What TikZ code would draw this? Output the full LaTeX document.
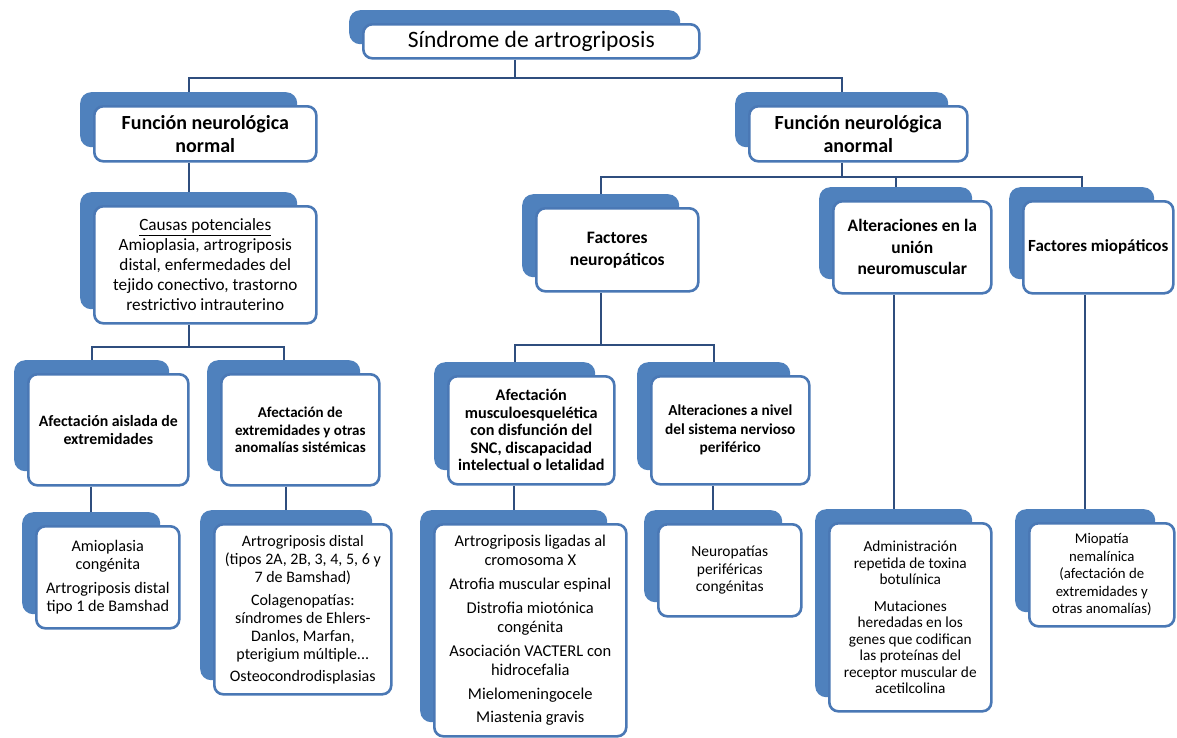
\documentclass[tikz,border=0pt]{standalone}
\usepackage{fontspec}
\setmainfont{Carlito}
\usetikzlibrary{backgrounds}
\definecolor{cardblue}{HTML}{4F81BD}
\definecolor{edgeblue}{HTML}{4A78B5}
\definecolor{linkblue}{HTML}{2F4E7E}
\tikzset{
 backcard/.style={fill=cardblue, draw=none, rounded corners=11pt, inner sep=0pt},
 frontcard/.style={fill=white, draw=edgeblue, line width=2.6pt, rounded corners=9pt, inner sep=2pt, align=center},
 fs/.style n args={2}{font=\fontsize{#1}{#2}\selectfont},
 fb/.style n args={2}{font=\fontsize{#1}{#2}\selectfont\bfseries},
 conn/.style={draw=linkblue, line width=2.2pt},
}
\newcommand\card[7]{%
 \node[backcard, anchor=north west, minimum width={#5-#3-5}, minimum height={#6-#4}] (#1b) at (#3-13,#4-13) {};
 \node[frontcard, #2, anchor=north west, minimum width={#5-#3}, minimum height={#6-#4}] (#1) at (#3,#4) {#7};}
\begin{document}
\begin{tikzpicture}[x=1pt,y=-1pt]
\useasboundingbox (0,0) rectangle (1177,737);
\card{top}{fs={23.5}{27}}{362}{23}{698}{57}{Síndrome de artrogriposis}
\card{fnn}{fb={20}{23}}{93}{105}{315}{160}{Función neurológica\\normal}
\card{fna}{fb={20}{23}}{748}{105}{966}{160}{Función neurológica\\anormal}
\card{causas}{fs={17.2}{20}}{93}{205}{315}{322}{\underline{Causas potenciales}\\Amioplasia, artrogriposis\\distal, enfermedades del\\tejido conectivo, trastorno\\restrictivo intrauterino}
\card{ais}{fb={15.8}{18}}{27}{373}{187}{484}{Afectación aislada de\\extremidades}
\card{ext}{fb={15}{17.5}}{220}{373}{378}{484}{Afectación de\\extremidades y otras\\anomalías sistémicas}
\card{amio}{fs={16.2}{17.5}}{35}{525}{178}{627}{Amioplasia\\congénita\\[7pt]Artrogriposis distal\\tipo 1 de Bamshad}
\card{artd}{fs={16}{18}}{213}{523}{390}{693}{Artrogriposis distal\\(tipos 2A, 2B, 3, 4, 5, 6 y\\7 de Bamshad)\\[5pt]Colagenopatías:\\síndromes de Ehlers-\\Danlos, Marfan,\\pterigium múltiple...\\[4pt]Osteocondrodisplasias}
\card{neu}{fb={17.5}{22}}{535}{207}{697}{290}{Factores\\neuropáticos}
\card{union}{fb={17.5}{21.5}}{832}{200}{990}{292}{Alteraciones en la\\unión\\neuromuscular}
\card{mio}{fb={17}{21}}{1022}{200}{1172}{292}{Factores miopáticos}
\card{musc}{fb={16.2}{17.5}}{447}{375}{613}{483}{Afectación\\musculoesquelética\\con disfunción del\\SNC, discapacidad\\intelectual o letalidad}
\card{peri}{fb={15.3}{18.5}}{650}{375}{808}{483}{Alteraciones a nivel\\del sistema nervioso\\periférico}
\card{xlig}{fs={16.5}{19}}{433}{523}{625}{735}{Artrogriposis ligadas al\\cromosoma X\\[5pt]Atrofia muscular espinal\\[5pt]Distrofia miotónica\\congénita\\[5pt]Asociación VACTERL con\\hidrocefalia\\[5pt]Mielomeningocele\\[4pt]Miastenia gravis}
\card{neurop}{fs={15.5}{17.5}}{657}{523}{800}{615}{Neuropatías\\periféricas\\congénitas}
\card{admin}{fs={15.3}{16.5}}{828}{522}{990}{710}{Administración\\repetida de toxina\\botulínica\\[10pt]Mutaciones\\heredadas en los\\genes que codifican\\las proteínas del\\receptor muscular de\\acetilcolina}
\card{miop}{fs={14.8}{17.5}}{1028}{522}{1173}{625}{Miopatía\\nemalínica\\(afectación de\\extremidades y\\otras anomalías)}
\coordinate (bus0) at (0,78);
\coordinate (bus1) at (0,347);
\coordinate (bus2) at (0,177);
\coordinate (bus3) at (0,345);
\begin{scope}[on background layer]
\draw[conn] (topb.center |- top.south) -- (topb.center |- bus0);
\draw[conn] (fnnb.north) -- (fnnb.north |- bus0) -- (fnab.north |- bus0) -- (fnab.north);
\draw[conn] (causasb.north |- fnn.south) -- (causasb.north);
\draw[conn] (causasb.center |- causas.south) -- (causasb.center |- bus1);
\draw[conn] (aisb.north) -- (aisb.north |- bus1) -- (extb.north |- bus1) -- (extb.north);
\draw[conn] (amiob.north |- ais.south) -- (amiob.north);
\draw[conn] (artdb.north |- ext.south) -- (artdb.north);
\draw[conn] (fnab.center |- fna.south) -- (fnab.center |- bus2);
\draw[conn] (neub.north) -- (neub.north |- bus2) -- (miob.north |- bus2) -- (miob.north);
\draw[conn] (unionb.north |- bus2) -- (unionb.north);
\draw[conn] (neub.center |- neu.south) -- (neub.center |- bus3);
\draw[conn] (muscb.north) -- (muscb.north |- bus3) -- (perib.north |- bus3) -- (perib.north);
\draw[conn] (xligb.north |- musc.south) -- (xligb.north);
\draw[conn] (neuropb.north |- peri.south) -- (neuropb.north);
\draw[conn] (adminb.north |- union.south) -- (adminb.north);
\draw[conn] (miopb.north |- mio.south) -- (miopb.north);
\end{scope}
\end{tikzpicture}
\end{document}
